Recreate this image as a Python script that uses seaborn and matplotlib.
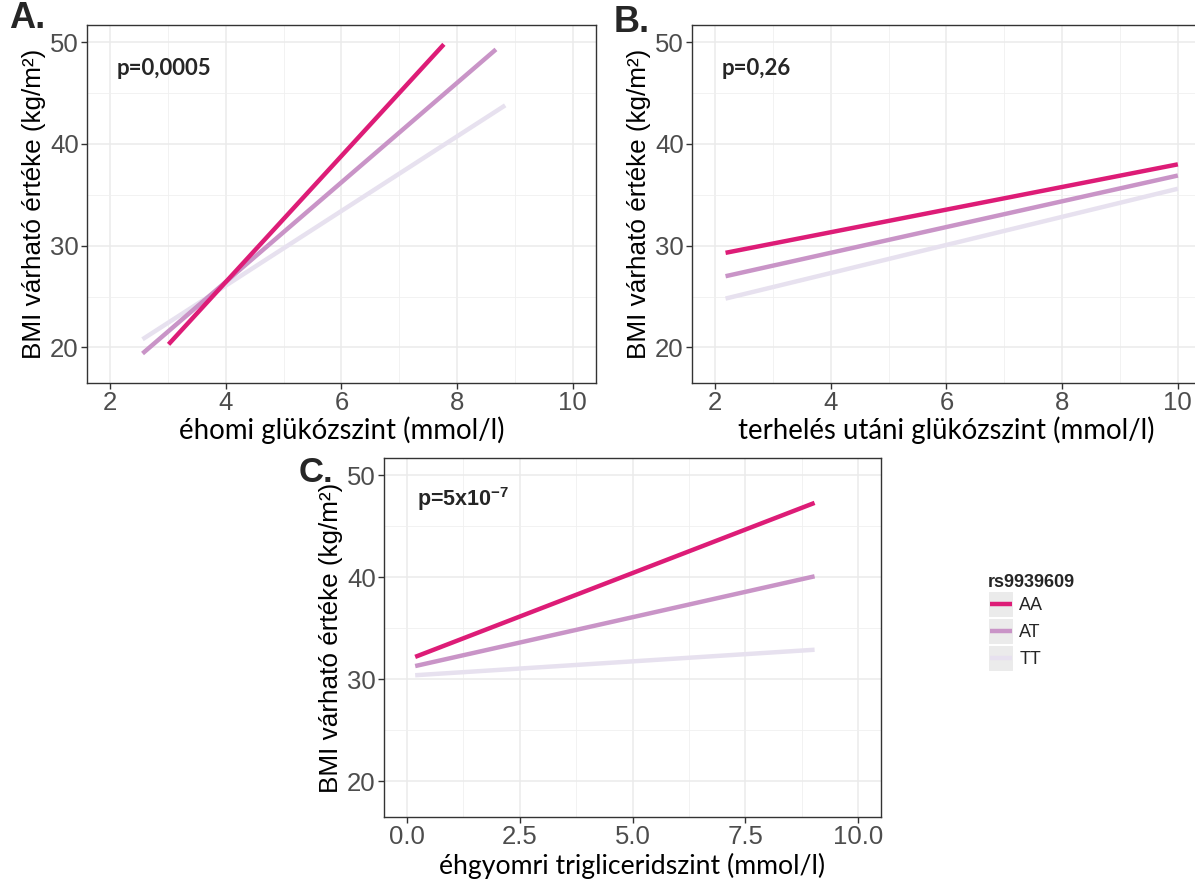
import numpy as np
import pandas as pd
import matplotlib
matplotlib.use("Agg")
import matplotlib.pyplot as plt
from matplotlib.ticker import MultipleLocator
from matplotlib.patches import Rectangle
from matplotlib.legend_handler import HandlerBase
from matplotlib.lines import Line2D
import seaborn as sns

# ---- data: fitted BMI lines per rs9939609 genotype (start and end points) ----
genotypes = ["AA", "AT", "TT"]
colors = ["#DD1C77", "#C994C7", "#E7E1EF"]

# A: fasting glucose (mmol/l)
fasting_x = [[3.01, 7.77], [2.56, 8.67], [2.56, 8.83]]
fasting_bmi = [[20.3, 49.8], [19.4, 49.3], [20.8, 43.8]]

# B: post-load glucose (mmol/l)
postload_x = [[2.18, 10.0], [2.18, 10.0], [2.18, 10.0]]
postload_bmi = [[29.3, 38.0], [27.0, 36.9], [24.8, 35.6]]

# C: fasting triglyceride (mmol/l)
trig_x = [[0.19, 9.03], [0.19, 9.03], [0.19, 9.03]]
trig_bmi = [[32.2, 47.3], [31.3, 40.1], [30.4, 32.9]]

p_values = ["p=0,0005", "p=0,26", "p=5x10$^{-7}$"]
panel_letters = ["A.", "B.", "C."]
x_titles = ["éhomi glükózszint (mmol/l)",
            "terhelés utáni glükózszint (mmol/l)",
            "éhgyomri trigliceridszint (mmol/l)"]
y_title = "BMI várható értéke (kg/m\u00b2)"
legend_title = "rs9939609"


def to_frame(xs, ys):
    rows = []
    for g, xv, yv in zip(genotypes, xs, ys):
        for a, b in zip(xv, yv):
            rows.append({"x": a, "bmi": b, "genotype": g})
    return pd.DataFrame(rows)


sns.set_theme(style="white")
plt.rcParams["font.family"] = ["Liberation Sans", "DejaVu Sans"]
plt.rcParams["mathtext.default"] = "regular"

W, H = 1195, 882
fig = plt.figure(figsize=(W / 100, H / 100), dpi=100)


def px_axes(left, top, right, bottom):
    return fig.add_axes([left / W, 1 - bottom / H, (right - left) / W, (bottom - top) / H])


axA = px_axes(87, 25, 596, 383)
axB = px_axes(692, 25, 1201, 383)
axC = px_axes(384, 458, 881, 817)

palette = dict(zip(genotypes, colors))
draw_order = ["TT", "AT", "AA"]

# (axes, data, xlim, ticks, minor step, tick labels, p-value position,
#  x-title width in px, x-title centre height in px)
panels = [
    (axA, to_frame(fasting_x, fasting_bmi), (1.6, 10.4), [2, 4, 6, 8, 10], 1.0,
     ["2", "4", "6", "8", "10"], (2.12, 47.4), 325, 430),
    (axB, to_frame(postload_x, postload_bmi), (1.6, 10.4), [2, 4, 6, 8, 10], 1.0,
     ["2", "4", "6", "8", "10"], (2.12, 47.4), 417, 430),
    (axC, to_frame(trig_x, trig_bmi), (-0.5, 10.5), [0, 2.5, 5, 7.5, 10], 1.25,
     ["0.0", "2.5", "5.0", "7.5", "10.0"], (0.24, 47.7), 385, 866),
]

xlabels = []
for i, (ax, df, xlim, xticks, xminor, xticklabels, ptxt, xl_w, xl_y) in enumerate(panels):
    sns.lineplot(data=df, x="x", y="bmi", hue="genotype", hue_order=draw_order,
                 palette=palette, linewidth=3.2, legend=False, ax=ax,
                 solid_capstyle="butt", zorder=3)
    ax.set_xlim(*xlim)
    ax.set_ylim(16.5, 51.7)
    ax.set_xticks(xticks)
    ax.set_xticklabels(xticklabels)
    ax.set_yticks([20, 30, 40, 50])
    ax.xaxis.set_minor_locator(MultipleLocator(xminor))
    ax.yaxis.set_minor_locator(MultipleLocator(5))
    ax.grid(which="major", color="#EBEBEB", linewidth=1.1)
    ax.grid(which="minor", color="#F0F0F0", linewidth=0.6)
    ax.set_axisbelow(True)
    for s in ax.spines.values():
        s.set_color("#333333")
        s.set_linewidth(1.0)
    ax.tick_params(axis="both", which="major", direction="out", length=4, width=1,
                   color="#333333", labelcolor="#4D4D4D", labelsize=18.5, pad=2,
                   bottom=True, left=True)
    ax.tick_params(which="minor", length=0)
    ax.set_ylabel(y_title, fontsize=18.8, color="black", labelpad=3)
    ax.set_xlabel("")
    # x title placed as free text under the panel so its width can be fitted
    bbox = ax.get_position()
    t = fig.text((bbox.x0 + bbox.x1) / 2, 1 - xl_y / H, x_titles[i], fontsize=21,
                 color="black", ha="center", va="center",
                 family=["Lato", "DejaVu Sans"])
    xlabels.append((t, xl_w))
    if i < 2:
        ax.text(ptxt[0], ptxt[1], p_values[i], fontsize=16, fontweight="bold",
                family=["Lato", "DejaVu Sans"], va="center", ha="left")
    else:
        ax.text(ptxt[0], ptxt[1], p_values[i], fontsize=15.5, fontweight="bold",
                family=["Liberation Sans", "DejaVu Sans"], va="center", ha="left")

# scale each x title to its intended width
fig.canvas.draw()
renderer = fig.canvas.get_renderer()
for t, target in xlabels:
    w = t.get_window_extent(renderer).width
    t.set_fontsize(t.get_fontsize() * target / w)

# panel letters
for letter, (px, py), size in zip(panel_letters, [(9, 19), (614, 22), (299, 472)],
                                  [26, 26, 25]):
    fig.text(px / W, 1 - py / H, letter, fontsize=size, fontweight="bold",
             va="center", ha="left")


# legend keys: grey square with the genotype line across its middle
class KeyBox(HandlerBase):
    def create_artists(self, legend, orig_handle, xdescent, ydescent, width,
                       height, fontsize, trans):
        box = Rectangle((-xdescent, -ydescent), width, height, facecolor="#EBEBEB",
                        edgecolor="white", linewidth=1.5, transform=trans)
        ymid = -ydescent + height / 2
        line = Line2D([-xdescent + 1.5, -xdescent + width - 1.5], [ymid, ymid],
                      color=orig_handle.get_color(),
                      linewidth=orig_handle.get_linewidth(),
                      solid_capstyle="butt", transform=trans)
        return [box, line]


handles = [Line2D([], [], color=c, linewidth=3.2) for c in colors]
leg = fig.legend(handles, genotypes, title=legend_title, loc="upper left",
                 bbox_to_anchor=(988 / W, 1 - 574 / H), frameon=False,
                 fontsize=13, title_fontproperties={"weight": "bold", "size": 13},
                 handlelength=1.44, handleheight=1.92, labelspacing=0.0,
                 handletextpad=0.3, borderpad=0.0, borderaxespad=0.0,
                 alignment="left", handler_map={Line2D: KeyBox()})

fig.savefig("out.png", dpi=100)
